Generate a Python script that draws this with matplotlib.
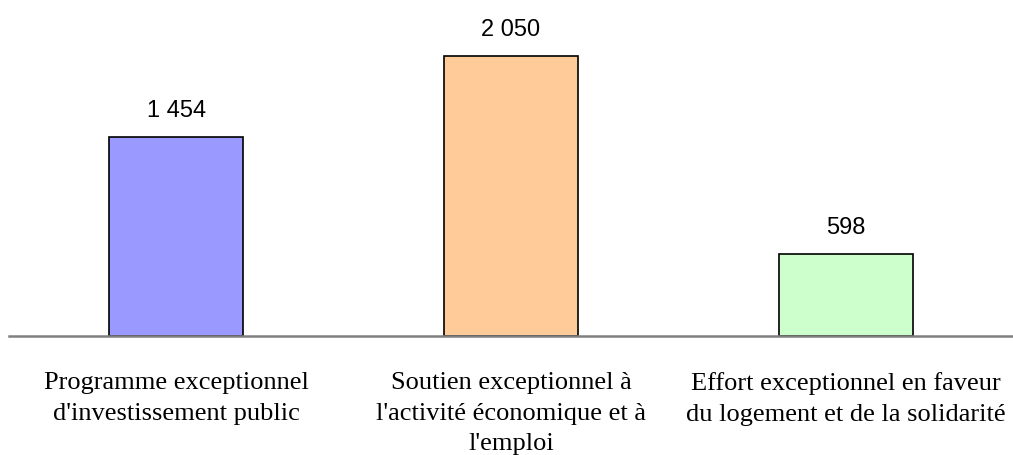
import matplotlib.pyplot as plt

categories = [
    "Programme exceptionnel\nd'investissement public",
    "Soutien exceptionnel à\nl'activité économique et à\nl'emploi",
    "Effort exceptionnel en faveur\ndu logement et de la solidarité",
]
values = [1454, 2050, 598]
colors = ["#9999FF", "#FFCC99", "#CCFFCC"]

fig = plt.figure(figsize=(10.13, 4.55), dpi=100)
ax = fig.add_axes([9 / 1013, 119 / 455, 1 - 9 / 1013, 336 / 455])

x = range(len(values))
bars = ax.bar(x, values, width=0.4, color=colors, edgecolor="black", linewidth=1.2)
ax.set_xlim(-0.5, len(values) - 0.5)
ax.set_ylim(0, 2460)

for b, v in zip(bars, values):
    ax.annotate("{:,}".format(v).replace(",", " "),
                (b.get_x() + b.get_width() / 2, v),
                xytext=(0, 11), textcoords="offset points",
                ha="center", va="bottom", fontsize=17, family="Liberation Sans")

ax.set_xticks(list(x))
ax.set_xticklabels(categories, fontsize=19, family="Liberation Serif", linespacing=1.5)
ax.tick_params(axis="x", length=0, pad=26)
ax.set_yticks([])
for s in ["top", "right", "left"]:
    ax.spines[s].set_visible(False)
ax.spines["bottom"].set_color("#808080")
ax.spines["bottom"].set_linewidth(1.8)

fig.savefig("out.png", dpi=100)
